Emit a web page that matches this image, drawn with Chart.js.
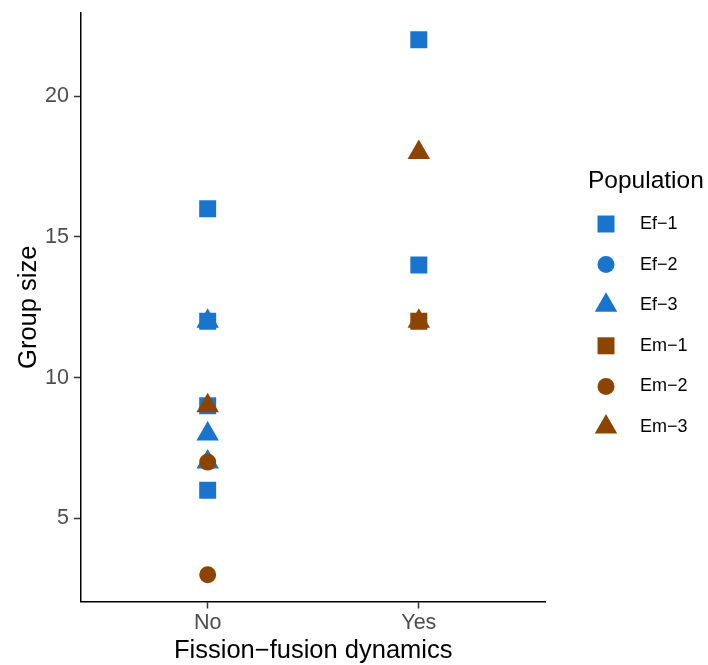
<!DOCTYPE html>
<html>
<head>
<meta charset="utf-8">
<script src="https://cdn.jsdelivr.net/npm/chart.js@4/dist/chart.umd.min.js"></script>
<style>
  html, body { margin: 0; padding: 0; background: #fff; }
</style>
</head>
<body>
<canvas id="groupChart" width="708" height="665"></canvas>
<script>
// categories on the x axis
var categories = ['No', 'Yes'];
var yTicks = [5, 10, 15, 20];

// group sizes per population, split by fission-fusion category
var ef1No = [16, 12, 9, 6],  ef1Yes = [22, 14];
var ef2No = [],              ef2Yes = [];
var ef3No = [12, 8, 7],      ef3Yes = [];
var em1No = [],              em1Yes = [12];
var em2No = [7, 3],          em2Yes = [];
var em3No = [9],             em3Yes = [18, 12];

var FONT = '"Liberation Sans", Arial, Helvetica, sans-serif';
var BLUE = '#1874CD', BROWN = '#8B4500';

function pts(no, yes) {
    var out = [];
    no.forEach(v => out.push({x: 0, y: v}));
    yes.forEach(v => out.push({x: 1, y: v}));
    return out;
}

function series(label, no, yes, color, style, radius, order) {
    return {
        label: label,
        data: pts(no, yes),
        backgroundColor: color,
        pointStyle: style,
        pointRadius: radius,
        pointHoverRadius: radius,
        pointBorderWidth: 0,
        borderWidth: 0,
        order: order
    };
}

var datasets = [
    series('Ef\u22121', ef1No, ef1Yes, BLUE,  'rect',     12,  3),
    series('Ef\u22122', ef2No, ef2Yes, BLUE,  'circle',   8.5, 4),
    series('Ef\u22123', ef3No, ef3Yes, BLUE,  'triangle', 13,  5),
    series('Em\u22121', em1No, em1Yes, BROWN, 'rect',     12,  0),
    series('Em\u22122', em2No, em2Yes, BROWN, 'circle',   8.5, 1),
    series('Em\u22123', em3No, em3Yes, BROWN, 'triangle', 13,  2)
];

function marker(ctx, style, r, x, y) {
    if (Chart.helpers && Chart.helpers.drawPoint) {
        Chart.helpers.drawPoint(ctx, {pointStyle: style, radius: r, rotation: 0, borderWidth: 0}, x, y);
        return;
    }
    ctx.beginPath();
    if (style === 'rect') {
        var s = r * Math.SQRT1_2;
        ctx.rect(x - s, y - s, 2 * s, 2 * s);
    } else if (style === 'circle') {
        ctx.arc(x, y, r, 0, Math.PI * 2);
    } else {
        ctx.moveTo(x, y - r);
        ctx.lineTo(x + r * Math.sqrt(3) / 2, y + r / 2);
        ctx.lineTo(x - r * Math.sqrt(3) / 2, y + r / 2);
        ctx.closePath();
    }
    ctx.fill();
}

// legend drawn by hand so each symbol keeps its own size
var popLegend = {
    id: 'popLegend',
    afterDraw(chart) {
        var ctx = chart.ctx;
        ctx.save();
        ctx.fillStyle = '#000';
        ctx.textAlign = 'left';
        ctx.textBaseline = 'alphabetic';
        ctx.font = '24.5px ' + FONT;
        ctx.fillText('Population', 588, 188);
        chart.data.datasets.forEach((ds, i) => {
            var y = 224 + i * 40.6;
            ctx.fillStyle = ds.backgroundColor;
            marker(ctx, ds.pointStyle, ds.pointRadius, 606, y);
            ctx.fillStyle = '#000';
            ctx.font = '18px ' + FONT;
            ctx.textBaseline = 'middle';
            ctx.fillText(ds.label, 640, y);
        });
        ctx.restore();
    }
};

Chart.defaults.font.family = FONT;

var chart = new Chart(document.getElementById('groupChart'), {
    type: 'scatter',
    data: { datasets: datasets },
    plugins: [popLegend],
    options: {
        responsive: false,
        animation: false,
        layout: { padding: { top: 12, right: 162.5, left: 0, bottom: 0 } },
        plugins: { legend: { display: false }, tooltip: { enabled: false } },
        scales: {
            x: {
                type: 'linear',
                min: -0.6,
                max: 1.6,
                afterBuildTicks: s => { s.ticks = categories.map((c, i) => ({value: i})); },
                afterFit: s => { s.height = 63.5; s.paddingLeft = 0; s.paddingRight = 0; },
                ticks: {
                    callback: v => categories[v],
                    font: { size: 21.5 },
                    color: '#4d4d4d',
                    padding: 2,
                    maxRotation: 0,
                    autoSkip: false
                },
                grid: { drawOnChartArea: false, drawTicks: true, tickLength: 7, tickColor: '#333', tickWidth: 1.5 },
                border: { color: '#000', width: 1.5 },
                title: {
                    display: true,
                    text: 'Fission\u2212fusion dynamics',
                    color: '#000',
                    font: { size: 25.5, lineHeight: 1 },
                    padding: { top: 0, bottom: 1 }
                }
            },
            y: {
                min: 2.05,
                max: 22.95,
                afterBuildTicks: s => { s.ticks = yTicks.map(v => ({value: v})); },
                afterFit: s => { s.width = 81; s.paddingTop = 0; s.paddingBottom = 0; },
                ticks: { font: { size: 21.5 }, color: '#4d4d4d', padding: 5 },
                grid: { drawOnChartArea: false, drawTicks: true, tickLength: 7, tickColor: '#333', tickWidth: 1.5 },
                border: { color: '#000', width: 1.5 },
                title: {
                    display: true,
                    text: 'Group size',
                    color: '#000',
                    font: { size: 25.5, lineHeight: 1 },
                    padding: { top: 16, bottom: 0 }
                }
            }
        }
    }
});
</script>
</body>
</html>
